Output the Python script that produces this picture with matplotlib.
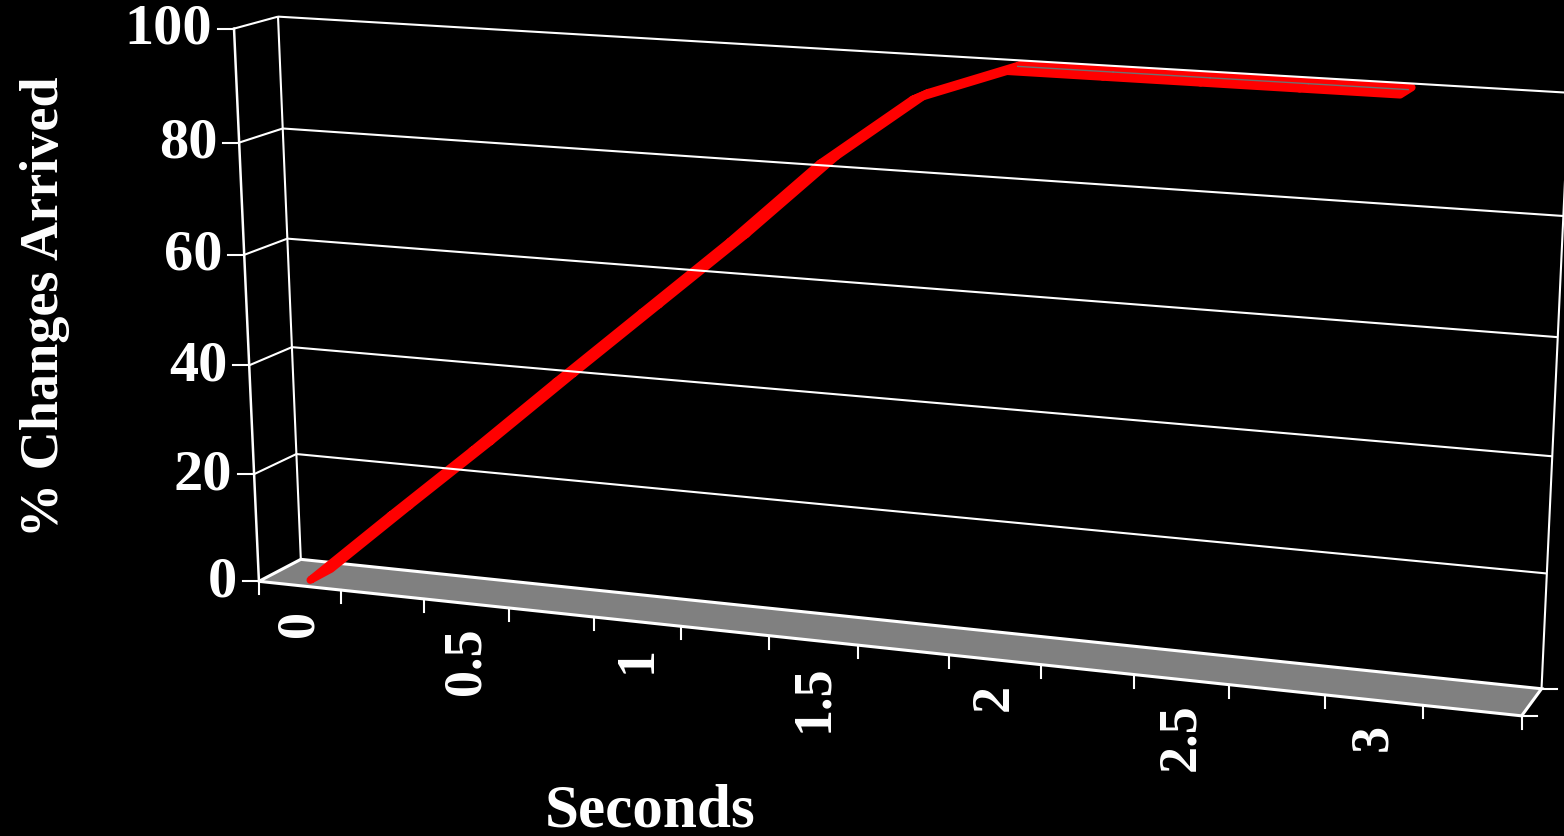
import numpy as np
import matplotlib
matplotlib.use("Agg")
import matplotlib.pyplot as plt
import matplotlib.transforms as mtransforms
from matplotlib.patches import Polygon

# ---------------- data ----------------
categories = ["0", "0.25", "0.5", "0.75", "1", "1.25", "1.5", "1.75",
              "2", "2.25", "2.5", "2.75", "3", "3.25"]
pct_arrived = [0, 13.6, 27, 40.8, 54.4, 68, 82.5, 94.3, 100, 100, 100, 100, 100, np.nan]
x_tick_labels = ["0", "0.5", "1", "1.5", "2", "2.5", "3"]
x_tick_index = [0, 2, 4, 6, 8, 10, 12]
y_ticks = [0, 20, 40, 60, 80, 100]
x_title = "Seconds"
y_title = "% Changes Arrived"

# ------------- 3D box calibration (layout) -------------
W, H = 1564, 837
n_cat = len(categories)
calib_box = [(0, 0, 0), (0, 100, 0), (0, 0, 1), (0, 100, 1), (14, 0, 1),
             (14, 80, 1), (14, 40, 1), (14, 0, 0), (7, 0, 0)]
calib_px = [(260, 582), (233, 30), (300, 561), (279, 17), (1541, 690),
            (1563, 218), (1553, 456), (1522, 717), (858, 646)]

rows = []
for (X, Y, Z), (u, v) in zip(calib_box, calib_px):
    x, y, z, uu, vv = X / 14, Y / 100, Z, u / 1000, v / 1000
    rows.append([x, y, z, 1, 0, 0, 0, 0, -uu * x, -uu * y, -uu * z, -uu])
    rows.append([0, 0, 0, 0, x, y, z, 1, -vv * x, -vv * y, -vv * z, -vv])
_, _, Vt = np.linalg.svd(np.array(rows, float))
PM = Vt[-1].reshape(3, 4)


def project(X, Y, Z):
    X, Y, Z = np.broadcast_arrays(np.asarray(X, float), np.asarray(Y, float), np.asarray(Z, float))
    h = PM @ np.vstack([X.ravel() / 14, Y.ravel() / 100, Z.ravel(), np.ones(X.size)])
    return 1000 * h[0] / h[2], 1000 * h[1] / h[2]


class PlaneProj(mtransforms.Transform):
    """Perspective projection of a plane of the 3D chart box onto the page."""
    input_dims = 2
    output_dims = 2

    def __init__(self, plane, const):
        super().__init__()
        self.plane = plane
        self.const = const

    def transform_non_affine(self, values):
        v = np.asarray(values, float)
        one = v.ndim == 1
        v = v.reshape(-1, 2)
        a, b = v[:, 0], v[:, 1]
        c = np.full_like(a, self.const)
        if self.plane == "z":
            X, Y, Z = a, b, c
        elif self.plane == "y":
            X, Z, Y = a, b, c
        else:
            Z, Y, X = a, b, c
        u, w = project(X, Y, Z)
        out = np.column_stack([u, w])
        return out[0] if one else out


fig = plt.figure(figsize=(W / 100, H / 100), dpi=100, facecolor="black")
ax = fig.add_axes([0, 0, 1, 1])
ax.set_xlim(0, W)
ax.set_ylim(H, 0)
ax.axis("off")
ax.set_facecolor("black")

Pz0, Pz1 = PlaneProj("z", 0), PlaneProj("z", 1)
Tz0 = Pz0 + ax.transData
Tz1 = Pz1 + ax.transData
Tx0 = PlaneProj("x", 0) + ax.transData
Ty0 = PlaneProj("y", 0) + ax.transData

grid_kw = dict(color="white", lw=1.5, solid_capstyle="butt")
# back wall and left wall gridlines
for v in y_ticks[1:]:
    ax.plot([0, n_cat], [v, v], transform=Tz1, **grid_kw)
    ax.plot([0, 1], [v, v], transform=Tx0, **grid_kw)
ax.plot([0, 0], [0, 100], transform=Tz1, **grid_kw)
ax.plot([n_cat, n_cat], [0, 100], transform=Tz1, **grid_kw)
ax.plot([0, 0], [0, 100], transform=Tz0, color="white", lw=1.8)

# floor
ax.add_patch(Polygon([(0, 0), (n_cat, 0), (n_cat, 1), (0, 1)], closed=True,
                     transform=Ty0, fc="#808080", ec="white", lw=2.2, joinstyle="miter"))

# ticks
tick_kw = dict(color="white", lw=1.5)
for v in y_ticks:
    px, py = Pz0.transform([0, v])
    ax.plot([px - 16, px], [py, py], **tick_kw)
for k in range(n_cat + 1):
    px, py = Pz0.transform([k, 0])
    ax.plot([px, px], [py, py + 13], **tick_kw)
for P in (Pz0, Pz1):
    px, py = P.transform([n_cat, 0])
    ax.plot([px, px + 15], [py, py], **tick_kw)

font = dict(family="Liberation Serif", weight="bold", color="white")
ylab_tr = mtransforms.offset_copy(Tz0, fig=fig, x=-22, y=0, units="dots")
for v in y_ticks:
    ax.text(0, v, str(v), transform=ylab_tr, ha="right", va="center", fontsize=42, **font)
xlab_tr = mtransforms.offset_copy(Tz0, fig=fig, x=0, y=-23, units="dots")
for idx, lab in zip(x_tick_index, x_tick_labels):
    ax.text(idx + 0.5, 0, lab, transform=xlab_tr, rotation=90, ha="center", va="top",
            fontsize=39, **font)

ax.text(45, 307, y_title, rotation=90, ha="center", va="center", fontsize=39, **font)
ax.text(650, 812, x_title, ha="center", va="center", fontsize=44, **font)

# series ribbon
z0, z1 = 0.25, 0.75
xs = np.arange(n_cat) + 0.5
ys = np.asarray(pct_arrived, float)
pts = np.column_stack([xs, ys])
front = PlaneProj("z", z0).transform(pts)
back = PlaneProj("z", z1).transform(pts)
for i in range(n_cat - 1):
    if np.isnan(ys[i]) or np.isnan(ys[i + 1]):
        continue
    poly = [front[i], front[i + 1], back[i + 1], back[i]]
    ax.add_patch(Polygon(poly, closed=True, fc="#ff0000", ec="#ff0000", lw=5.5,
                         joinstyle="round"))
mid = PlaneProj("z", 0.6).transform(pts)
for i in range(n_cat - 1):
    if ys[i + 1] <= ys[i]:
        ax.plot(mid[i:i + 2, 0], mid[i:i + 2, 1], color="#707070", lw=1.0)

fig.savefig("out.png", dpi=100, facecolor="black")
